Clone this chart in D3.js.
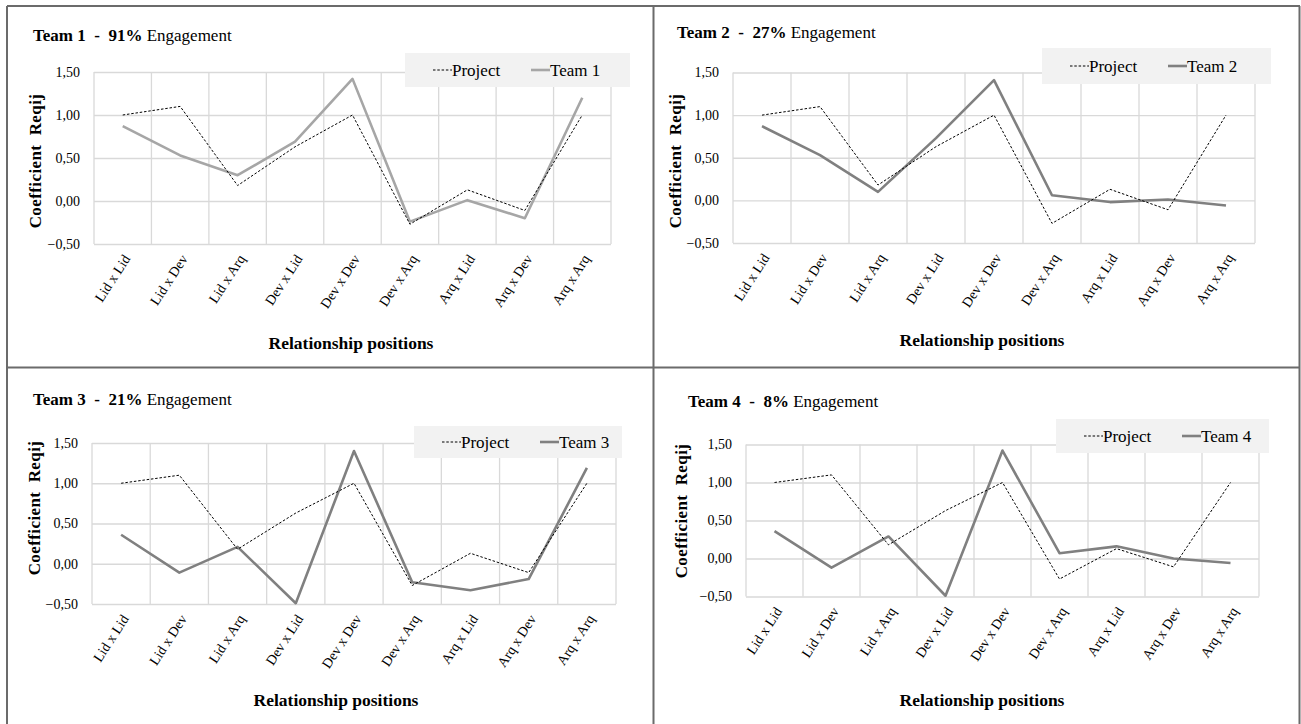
<!DOCTYPE html>
<html>
<head>
<meta charset="utf-8">
<script src="https://cdn.jsdelivr.net/npm/d3@7"></script>
<style>
  html, body { margin: 0; padding: 0; background: #fff; }
  svg { display: block; }
  svg text { font-family: "Liberation Serif", "Tinos", "Times New Roman", "Times", "DejaVu Serif", "Liberation Sans", sans-serif !important; }
</style>
</head>
<body>
<svg id="chart" width="1301" height="724"></svg>
<script>
// ---------------- DATA ----------------
const categories = ["Lid x Lid", "Lid x Dev", "Lid x Arq", "Dev x Lid", "Dev x Dev", "Dev x Arq", "Arq x Lid", "Arq x Dev", "Arq x Arq"];
const yTicks = [-0.5, 0, 0.5, 1.0, 1.5];
const projectValues = [1.00, 1.10, 0.18, 0.63, 1.00, -0.27, 0.13, -0.11, 1.00];
const team1Values = [0.87, 0.53, 0.30, 0.69, 1.42, -0.24, 0.01, -0.20, 1.20];
const team2Values = [0.87, 0.53, 0.10, 0.73, 1.41, 0.06, -0.02, 0.01, -0.06];
const team3Values = [0.36, -0.11, 0.21, -0.49, 1.40, -0.23, -0.33, -0.19, 1.19];
const team4Values = [0.36, -0.12, 0.29, -0.49, 1.42, 0.07, 0.16, 0.00, -0.06];
const teamNames = ["Team 1", "Team 2", "Team 3", "Team 4"];
const engagementLabels = ["91%", "27%", "21%", "8%"];
const projectName = "Project";
const xAxisTitle = "Relationship positions";
const yAxisTitle = "Coefficient  Reqij";

// ---------------- LAYOUT ----------------
const teamSeries = [team1Values, team2Values, team3Values, team4Values];
const teamColors = ["#a6a6a6", "#808080", "#808080", "#808080"];
const panels = [
  { plot: [94, 611, 72, 244],    title: [33, 41],   legend: [405, 53, 225, 34],   yTitle: [35, 161],  xTitle: [351, 349] },
  { plot: [733, 1255, 72.5, 243], title: [677, 38],  legend: [1042, 48, 229, 36],  yTitle: [675, 161], xTitle: [982, 346] },
  { plot: [92, 616, 443, 604],   title: [33, 405],  legend: [414, 426, 208, 32],  yTitle: [34, 508],  xTitle: [336, 706] },
  { plot: [746, 1259, 444.5, 596.5], title: [688, 407], legend: [1056, 419, 213, 34], yTitle: [681, 511], xTitle: [982, 706] }
];

const svg = d3.select("#chart");

// table borders
const borderColor = "#6b6b6b";
const border = svg.append("g").attr("stroke", borderColor).attr("stroke-width", 2).attr("fill", "none");
border.append("line").attr("x1", 7).attr("x2", 1300).attr("y1", 6).attr("y2", 6);
border.append("line").attr("x1", 7).attr("x2", 7).attr("y1", 6).attr("y2", 724);
border.append("line").attr("x1", 1299.5).attr("x2", 1299.5).attr("y1", 6).attr("y2", 724);
border.append("line").attr("x1", 653.5).attr("x2", 653.5).attr("y1", 6).attr("y2", 724);
border.append("line").attr("x1", 7).attr("x2", 1300).attr("y1", 367.5).attr("y2", 367.5);

panels.forEach((p, i) => {
  const [x0, x1, yTop, yBot] = p.plot;
  const g = svg.append("g");
  const x = d3.scaleBand().domain(categories).range([x0, x1]).padding(0);
  const y = d3.scaleLinear().domain([-0.5, 1.5]).range([yBot, yTop]);

  // horizontal gridlines
  const yAxis = d3.axisLeft(y).tickValues(yTicks).tickSize(-(x1 - x0)).tickPadding(14)
    .tickFormat(d => d3.format(".2f")(d).replace(".", ","));
  const ya = g.append("g").attr("transform", `translate(${x0},0)`).call(yAxis);
  ya.attr("font-family", null);
  ya.select(".domain").remove();
  ya.selectAll(".tick line").attr("stroke", "#d9d9d9").attr("stroke-width", 1.3);
  ya.selectAll(".tick text").attr("font-size", 14).attr("fill", "#000");

  // vertical gridlines at category boundaries
  const bounds = categories.map(c => x(c)).concat([x1]);
  g.append("g").selectAll("line").data(bounds).join("line")
    .attr("x1", d => d).attr("x2", d => d).attr("y1", yTop).attr("y2", yBot)
    .attr("stroke", "#d9d9d9").attr("stroke-width", 1.3);

  // x axis labels
  const xAxis = d3.axisBottom(x).tickSize(0).tickPadding(0);
  const xa = g.append("g").attr("transform", `translate(0,${yBot})`).call(xAxis);
  xa.attr("font-family", null);
  xa.select(".domain").remove();
  xa.selectAll(".tick text")
    .attr("font-size", 14).attr("fill", "#000")
    .attr("text-anchor", "end")
    .attr("dy", "0.35em")
    .attr("transform", "translate(4,12) rotate(-57)");

  // lines
  const line = d3.line().x((d, k) => x(categories[k]) + x.bandwidth() / 2).y(d => y(d));
  g.append("path").datum(teamSeries[i]).attr("d", line)
    .attr("fill", "none").attr("stroke", teamColors[i]).attr("stroke-width", 2.6)
    .attr("stroke-linejoin", "round");
  g.append("path").datum(projectValues).attr("d", line)
    .attr("fill", "none").attr("stroke", "#000").attr("stroke-width", 1)
    .attr("stroke-dasharray", "2.5,1.8");

  // title
  const t = g.append("text").attr("x", p.title[0]).attr("y", p.title[1])
    .attr("font-size", 17).attr("fill", "#000").style("white-space", "pre");
  t.append("tspan").attr("font-weight", "bold").text(`${teamNames[i]}  -  ${engagementLabels[i]}`);
  t.append("tspan").text(" Engagement");

  // legend
  const [lx, ly, lw, lh] = p.legend;
  const lg = g.append("g");
  lg.append("rect").attr("x", lx).attr("y", ly).attr("width", lw).attr("height", lh).attr("fill", "#f2f2f2");
  const cy = ly + lh / 2;
  lg.append("line").attr("x1", lx + 28).attr("x2", lx + 47).attr("y1", cy).attr("y2", cy)
    .attr("stroke", "#000").attr("stroke-width", 1).attr("stroke-dasharray", "2.5,1.8");
  lg.append("text").attr("x", lx + 47).attr("y", cy + 6).attr("font-size", 17).text(projectName);
  lg.append("line").attr("x1", lx + 126).attr("x2", lx + 145).attr("y1", cy).attr("y2", cy)
    .attr("stroke", teamColors[i]).attr("stroke-width", 2.6);
  lg.append("text").attr("x", lx + 145).attr("y", cy + 6).attr("font-size", 17).text(teamNames[i]);

  // axis titles
  g.append("text").attr("x", p.xTitle[0]).attr("y", p.xTitle[1]).attr("text-anchor", "middle")
    .attr("font-size", 17.5).attr("font-weight", "bold").text(xAxisTitle);
  g.append("text").attr("transform", `translate(${p.yTitle[0] + 6},${p.yTitle[1]}) rotate(-90)`)
    .attr("text-anchor", "middle").attr("font-size", 17).attr("font-weight", "bold")
    .attr("letter-spacing", 0.4).style("white-space", "pre")
    .text(yAxisTitle);
});
</script>
</body>
</html>
